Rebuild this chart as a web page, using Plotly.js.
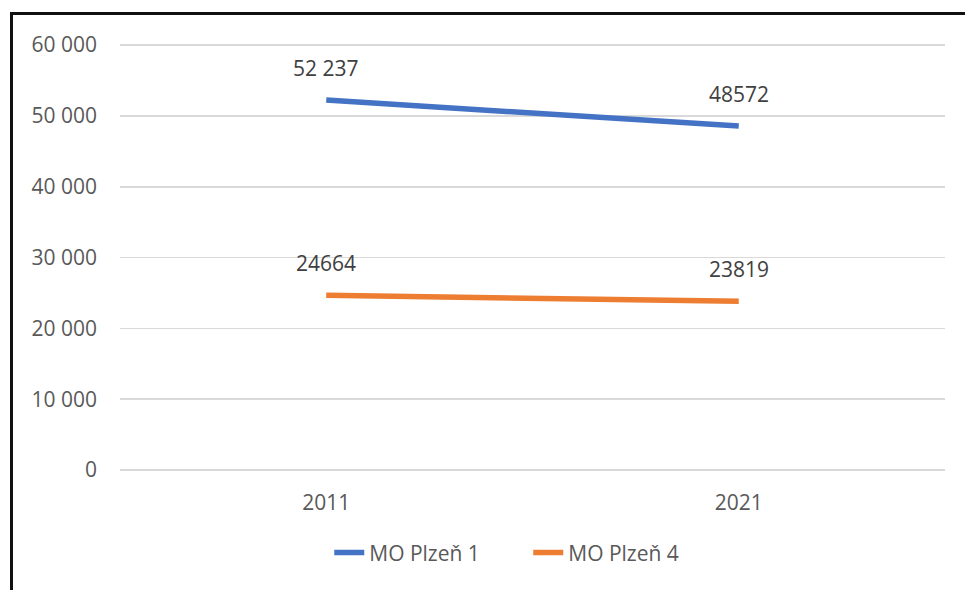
<!DOCTYPE html>
<html>
<head>
<meta charset="utf-8">
<script src="https://cdn.plot.ly/plotly-3.0.1.min.js"></script>
<style>
  html, body { margin: 0; padding: 0; background: #fff; }
  #wrap { position: relative; width: 965px; height: 590px; }
  #chart { width: 965px; height: 590px; }
  #frame { position: absolute; left: 10px; top: 12px; right: 0; bottom: 0;
           border-left: 3px solid #111; border-top: 3px solid #111; pointer-events: none; }
</style>
</head>
<body>
<div id="wrap">
  <div id="chart"></div>
  <div id="frame"></div>
</div>
<script>
const years = ['2011', '2021'];
const seriesNames = ['MO Plzeň 1', 'MO Plzeň 4'];
const plzen1 = [52237, 48572];
const plzen4 = [24664, 23819];
const plzen1Labels = ['52 237', '48572'];
const plzen4Labels = ['24664', '23819'];
const yTicks = [0, 10000, 20000, 30000, 40000, 50000, 60000];
const colors = ['#4472C4', '#ED7D31'];

const FONT = 'Open Sans, Noto Sans, sans-serif';

const traces = [
  { x: years, y: plzen1, name: seriesNames[0], type: 'scatter', mode: 'lines',
    line: { color: colors[0], width: 5.5 }, hoverinfo: 'skip' },
  { x: years, y: plzen4, name: seriesNames[1], type: 'scatter', mode: 'lines',
    line: { color: colors[1], width: 5.5 }, hoverinfo: 'skip' }
];

const annotations = [];
[[plzen1, plzen1Labels], [plzen4, plzen4Labels]].forEach(function (pair) {
  const vals = pair[0], labels = pair[1];
  vals.forEach(function (v, i) {
    annotations.push({ x: i, y: v, xref: 'x', yref: 'y', text: labels[i],
      showarrow: false, yshift: 32, font: { family: FONT, size: 21, color: '#404040' } });
  });
});

const layout = {
  width: 965, height: 590,
  margin: { l: 120, r: 20, t: 43, b: 120 },
  paper_bgcolor: '#fff', plot_bgcolor: '#fff',
  separators: ', ',
  font: { family: FONT, size: 21, color: '#595959' },
  xaxis: { type: 'category', range: [-0.5, 1.5], showgrid: false, zeroline: false,
    showline: false, ticks: '', ticklabelstandoff: 18, tickfont: { size: 21, color: '#595959' } },
  yaxis: { range: [0, 60300], tickvals: yTicks,
    tickformat: ',d', showgrid: true,
    gridcolor: '#d9d9d9', gridwidth: 1.5, zeroline: true, zerolinecolor: '#d9d9d9', zerolinewidth: 1.5,
    showline: false, ticks: '', ticklabelstandoff: 22, tickfont: { size: 21, color: '#595959' } },
  showlegend: true,
  legend: { orientation: 'h', xref: 'container', yref: 'container', x: 0.3412, xanchor: 'left',
    y: 0.063, yanchor: 'middle', font: { size: 21, color: '#595959' }, itemwidth: 30,
    entrywidth: 154, traceorder: 'normal' },
  annotations: annotations
};

Plotly.newPlot('chart', traces, layout, { staticPlot: true, displayModeBar: false });
</script>
</body>
</html>
